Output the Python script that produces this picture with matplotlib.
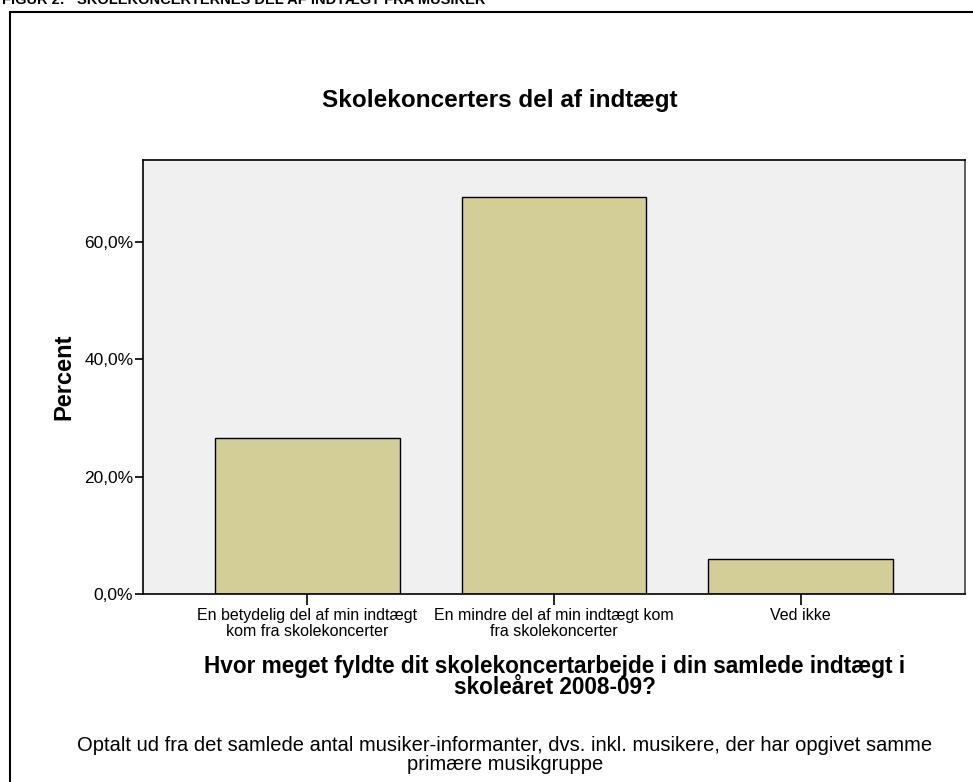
import matplotlib
matplotlib.use("Agg")
import matplotlib.pyplot as plt
from matplotlib.ticker import FuncFormatter
from matplotlib.patches import Rectangle

plt.rcParams['font.family'] = ['Liberation Sans', 'DejaVu Sans']

categories = ["En betydelig del af min indtægt\nkom fra skolekoncerter",
              "En mindre del af min indtægt kom\nfra skolekoncerter",
              "Ved ikke"]
percent = [26.6, 67.7, 6.0]
yticks = [0, 20, 40, 60]

W, H = 973, 782
fig = plt.figure(figsize=(W / 100, H / 100), dpi=100)

# outer frame (cut by the image edge on right/bottom)
fig.patches.append(Rectangle((10 / W, -0.1), 1.2, (H - 12) / H + 0.1,
                             transform=fig.transFigure, fill=False,
                             edgecolor='black', linewidth=1.5))

# heading of the page, cut off by the top edge as in the source
fig.text(2 / W, 1 - 4 / H, "FIGUR 2:   SKOLEKONCERTERNES DEL AF INDTÆGT FRA MUSIKER",
         ha='left', va='baseline', fontsize=10.5, fontweight='bold')

ax = fig.add_axes([143 / W, 1 - 594 / H, (965 - 143) / W, (594 - 160) / H])
ax.set_facecolor('#f0f0f0')
x = range(len(categories))
ax.bar(x, percent, width=0.75, color='#d3ce98', edgecolor='black', linewidth=1.0, zorder=2)
ax.set_xlim(-0.667, 2.667)
ax.set_ylim(0, 74)
ax.set_yticks(yticks)
ax.yaxis.set_major_formatter(FuncFormatter(lambda v, p: ("%.1f%%" % v).replace('.', ',')))
ax.set_xticks(list(x))
ax.set_xticklabels(categories, fontsize=11.5, linespacing=1.1)
ax.tick_params(axis='y', length=6, width=1.2, labelsize=12.5, pad=1)
ax.tick_params(axis='x', length=8, width=1.2, pad=2)
for s in ax.spines.values():
    s.set_linewidth(1.2)
ax.spines['right'].set_color('#444444')

ax.set_ylabel("Percent", fontsize=17, fontweight='bold', labelpad=6)

fig.text(500 / W, 1 - 101 / H, "Skolekoncerters del af indtægt",
         ha='center', va='center', fontsize=17.5, fontweight='bold')
fig.text(555 / W, 1 - 677 / H,
         "Hvor meget fyldte dit skolekoncertarbejde i din samlede indtægt i\nskoleåret 2008-09?",
         ha='center', va='center', fontsize=16.3, fontweight='bold', linespacing=0.9)
fig.text(505 / W, 1 - 755 / H,
         "Optalt ud fra det samlede antal musiker-informanter, dvs. inkl. musikere, der har opgivet samme\nprimære musikgruppe",
         ha='center', va='center', fontsize=14.5, linespacing=1.0)

fig.savefig("out.png", dpi=100)
